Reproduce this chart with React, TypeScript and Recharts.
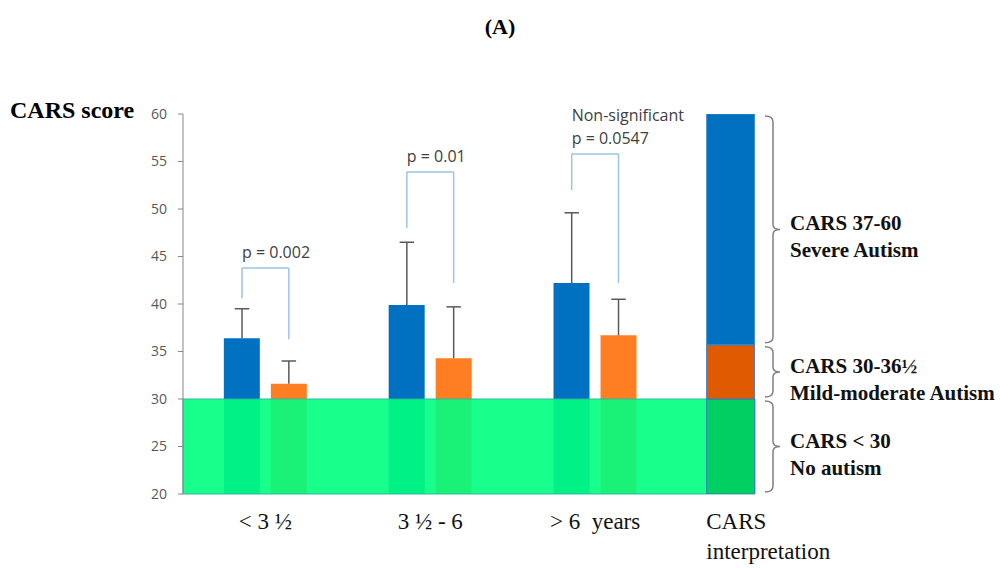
import React from 'react';
import { BarChart, Bar, XAxis, YAxis, ReferenceArea, ReferenceLine } from 'recharts';

// age groups, placed on a numeric x axis so the CARS column can sit closer to the third group
const ageGroups = ['< 3 ½', '3 ½ - 6', '> 6  years'];
const groupPos = [1, 2, 3];
const carsPos = 3.82;
const carsTick = ['CARS', 'interpretation'];

const blueMean = [36.4, 39.9, 42.2];
const blueSd = [3.1, 6.6, 7.4];
const orangeMean = [31.6, 34.3, 36.7];
const orangeSd = [2.4, 5.4, 3.8];

// significance brackets (y values on the CARS scale)
const pText = [['p = 0.002'], ['p = 0.01'], ['Non-significant', 'p = 0.0547']];
const pTop = [43.8, 53.9, 55.8];
const pLeftEnd = [40.6, 48.0, 52.0];
const pRightEnd = [36.3, 42.2, 42.2];
const pairHalf = 0.142; // half distance between the two bar centres, in x units
const capHalf = 0.044; // half width of an error bar cap, in x units

// CARS interpretation bands
const bandLow = [20, 30, 35.7];
const bandHigh = [30, 35.7, 60];
const bandText = [
  ['CARS < 30', 'No autism'],
  ['CARS 30-36½', 'Mild-moderate Autism'],
  ['CARS 37-60', 'Severe Autism'],
];

const yTicks = [20, 25, 30, 35, 40, 45, 50, 55, 60];

const data = [
  ...groupPos.map((pos, i) => ({
    pos,
    blue: blueMean[i],
    orange: orangeMean[i],
  })),
  {
    pos: carsPos,
    none: bandHigh[0],
    mild: bandHigh[1] - bandLow[1],
    severe: bandHigh[2] - bandLow[2],
  },
];

// upward-only error whiskers: [x of bar centre, mean, sd]
const whiskers = groupPos.flatMap((pos, i) => [
  [pos - pairHalf, blueMean[i], blueSd[i]],
  [pos + pairHalf, orangeMean[i], orangeSd[i]],
]);

const serif = '"Liberation Serif", "Times New Roman", serif';
const sans = '"Open Sans", Arial, sans-serif';

const XTick = (props: any) => {
  const { x, y, payload } = props;
  const isCars = payload.value === carsPos;
  const lines = isCars ? carsTick : [ageGroups[groupPos.indexOf(payload.value)]];
  return (
    <g>
      {lines.map((t, i) => (
        <text
          key={i}
          x={isCars ? x - 24 : x}
          y={y + 27 + i * 30}
          textAnchor={isCars ? 'start' : 'middle'}
          fontFamily={serif}
          fontSize={23}
          fill="#111"
          style={{ whiteSpace: 'pre' }}
        >
          {t}
        </text>
      ))}
    </g>
  );
};

const Brace = (props: any) => {
  const { x, y, width, height, lines } = props;
  const bx = x + width + 18;
  const top = y + 2;
  const bot = y + height - 2;
  const mid = y + height / 2;
  const d = `M${bx - 8},${top} Q${bx},${top} ${bx},${top + 6} L${bx},${mid - 5} Q${bx},${mid} ${bx + 7},${mid} Q${bx},${mid} ${bx},${mid + 5} L${bx},${bot - 6} Q${bx},${bot} ${bx - 8},${bot}`;
  return (
    <g>
      <path d={d} fill="none" stroke="#808080" strokeWidth={1.5} />
      {lines.map((t: string, i: number) => (
        <text key={i} x={bx + 17} y={mid + 1 + i * 27} fontFamily={serif} fontWeight="bold" fontSize={21} fill="#111">
          {t}
        </text>
      ))}
    </g>
  );
};

const pLabel = (lines: string[]) => (props: any) => {
  const vb = props.viewBox || {};
  return (
    <g>
      {lines.map((t, i) => (
        <text key={i} x={vb.x} y={vb.y - 10 - (lines.length - 1 - i) * 23} fontFamily={sans} fontSize={16} fill="#404040">
          {t}
        </text>
      ))}
    </g>
  );
};

const App = () => {
  return (
    <div style={{ position: 'absolute', left: 0, top: 0, width: 1000, height: 568, background: '#fff' }}>
      <div style={{ position: 'absolute', left: 0, width: 1000, top: 14, textAlign: 'center', fontFamily: serif, fontWeight: 'bold', fontSize: 22 }}>
        (A)
      </div>
      <div style={{ position: 'absolute', left: 10, top: 97, fontFamily: serif, fontWeight: 'bold', fontSize: 24 }}>
        CARS score
      </div>
      <BarChart width={1000} height={568} data={data} margin={{ top: 114, right: 245, left: 120, bottom: 0 }} barSize={36} barGap={11}>
        <XAxis
          type="number"
          dataKey="pos"
          domain={[0.5, 3.97]}
          allowDataOverflow
          ticks={[...groupPos, carsPos]}
          axisLine={false}
          tickLine={false}
          height={74}
          tick={<XTick />}
          interval={0}
        />
        <XAxis xAxisId="cars" type="number" dataKey="pos" domain={[0.5, 3.97]} allowDataOverflow hide />
        <YAxis
          type="number"
          domain={[20, 60]}
          allowDataOverflow
          ticks={yTicks}
          width={63}
          tickSize={5}
          tickMargin={11}
          stroke="#868686"
          tick={{ fill: '#595959', fontSize: 14, fontFamily: sans }}
        />
        <Bar dataKey="blue" fill="#0070C0" isAnimationActive={false} />
        <Bar dataKey="orange" fill="#FF7E22" isAnimationActive={false} />
        <ReferenceArea y1={20} y2={30} fill="#00FF80" fillOpacity={0.9} stroke="#2fb8a0" strokeWidth={1} zIndex={350} />
        <Bar xAxisId="cars" dataKey="none" stackId="cars" barSize={48} fill="#00D062" stroke="#3a78c0" strokeWidth={1} isAnimationActive={false} zIndex={400} />
        <Bar xAxisId="cars" dataKey="mild" stackId="cars" barSize={48} fill="#E05A00" stroke="#3a78c0" strokeWidth={1} isAnimationActive={false} zIndex={400} />
        <Bar xAxisId="cars" dataKey="severe" stackId="cars" barSize={48} fill="#0070C0" stroke="#3a8ad0" strokeWidth={1} isAnimationActive={false} zIndex={400} />
        {whiskers.map(([x, m, sd], i) => (
          <ReferenceLine key={`ev${i}`} segment={[{ x, y: m }, { x, y: m + sd }]} stroke="#595959" strokeWidth={1.5} />
        ))}
        {whiskers.map(([x, m, sd], i) => (
          <ReferenceLine key={`ec${i}`} segment={[{ x: x - capHalf, y: m + sd }, { x: x + capHalf, y: m + sd }]} stroke="#595959" strokeWidth={1.5} />
        ))}
        {groupPos.map((pos, i) => (
          <ReferenceLine
            key={`l${i}`}
            segment={[{ x: pos - pairHalf, y: pLeftEnd[i] }, { x: pos - pairHalf, y: pTop[i] }]}
            stroke="#9DC3E6"
            strokeWidth={1.5}
          />
        ))}
        {groupPos.map((pos, i) => (
          <ReferenceLine
            key={`t${i}`}
            segment={[{ x: pos - pairHalf, y: pTop[i] }, { x: pos + pairHalf, y: pTop[i] }]}
            stroke="#9DC3E6"
            strokeWidth={1.5}
            label={pLabel(pText[i])}
          />
        ))}
        {groupPos.map((pos, i) => (
          <ReferenceLine
            key={`r${i}`}
            segment={[{ x: pos + pairHalf, y: pRightEnd[i] }, { x: pos + pairHalf, y: pTop[i] }]}
            stroke="#9DC3E6"
            strokeWidth={1.5}
          />
        ))}
        {bandLow.map((lo, i) => (
          <ReferenceArea
            key={`b${i}`}
            y1={lo}
            y2={bandHigh[i]}
            ifOverflow="visible"
            shape={(p: any) => <Brace {...p} lines={bandText[i]} />}
          />
        ))}
      </BarChart>
    </div>
  );
};

export default App;
